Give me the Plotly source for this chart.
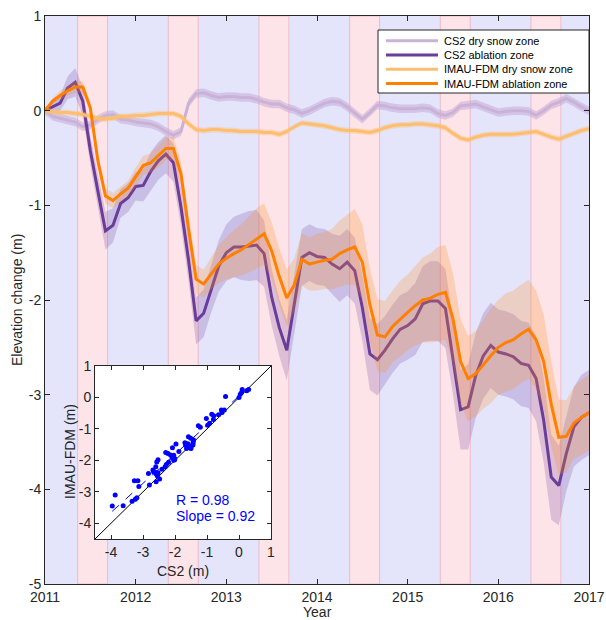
import numpy as np
import plotly.graph_objects as go

# ---------------- data ----------------
month_index = list(range(73))              # months since Jan 2011
time = [2011 + m / 12 for m in month_index]

cs2_dry = [0.00, -0.06, -0.08, -0.10, -0.12, -0.17, -0.15, -0.09, -0.05, -0.04, -0.09, -0.10, -0.12,
           -0.13, -0.14, -0.17, -0.22, -0.26, -0.22, 0.08, 0.18, 0.19, 0.16, 0.14, 0.15,
           0.15, 0.14, 0.14, 0.12, 0.09, 0.07, 0.07, 0.03, 0.01, -0.03, 0.00, 0.04,
           0.08, 0.10, 0.09, 0.04, -0.03, -0.09, -0.02, 0.06, 0.05, 0.03, 0.02, 0.02,
           0.02, 0.03, 0.02, -0.03, -0.05, -0.02, 0.05, 0.06, 0.07, 0.04, 0.01, -0.02,
           -0.01, 0.00, 0.00, -0.01, -0.05, 0.00, 0.06, 0.09, 0.13, 0.09, 0.04, 0.00]

cs2_abl = [0.00, 0.04, 0.08, 0.24, 0.30, 0.10, -0.42, -0.85, -1.27, -1.21, -0.98, -0.92, -0.80,
           -0.79, -0.64, -0.53, -0.46, -0.55, -1.02, -1.58, -2.22, -2.14, -1.88, -1.64, -1.50,
           -1.44, -1.44, -1.43, -1.42, -1.51, -1.97, -2.29, -2.53, -2.04, -1.55, -1.50, -1.54,
           -1.55, -1.62, -1.67, -1.60, -1.69, -2.08, -2.57, -2.63, -2.53, -2.41, -2.31, -2.27,
           -2.20, -2.04, -2.01, -2.01, -2.09, -2.60, -3.16, -3.13, -2.80, -2.59, -2.48, -2.55,
           -2.57, -2.60, -2.67, -2.69, -2.83, -3.27, -3.87, -3.96, -3.62, -3.34, -3.24, -3.19]

imau_dry = [0.00, -0.01, -0.02, -0.02, -0.03, -0.04, -0.06, -0.08, -0.09, -0.08, -0.06, -0.06, -0.05,
            -0.05, -0.04, -0.03, -0.03, -0.03, -0.06, -0.14, -0.20, -0.21, -0.20, -0.20, -0.21,
            -0.21, -0.22, -0.22, -0.22, -0.23, -0.23, -0.25, -0.22, -0.17, -0.13, -0.14, -0.15,
            -0.16, -0.18, -0.20, -0.21, -0.21, -0.22, -0.23, -0.21, -0.18, -0.16, -0.15, -0.15,
            -0.14, -0.14, -0.15, -0.16, -0.18, -0.24, -0.29, -0.31, -0.28, -0.26, -0.25, -0.25,
            -0.25, -0.25, -0.24, -0.23, -0.22, -0.25, -0.28, -0.30, -0.27, -0.24, -0.21, -0.19]

imau_abl = [0.00, 0.10, 0.16, 0.21, 0.25, 0.25, 0.03, -0.53, -0.90, -0.95, -0.88, -0.82, -0.70,
            -0.58, -0.55, -0.48, -0.40, -0.40, -0.67, -1.25, -1.78, -1.83, -1.72, -1.62, -1.56,
            -1.51, -1.47, -1.41, -1.35, -1.30, -1.48, -1.75, -1.98, -1.84, -1.57, -1.62, -1.60,
            -1.58, -1.57, -1.51, -1.47, -1.44, -1.60, -2.05, -2.37, -2.39, -2.28, -2.20, -2.13,
            -2.06, -2.00, -1.98, -1.94, -1.92, -2.20, -2.65, -2.83, -2.78, -2.68, -2.59, -2.50,
            -2.45, -2.42, -2.36, -2.31, -2.42, -2.65, -3.10, -3.45, -3.44, -3.30, -3.24, -3.19]

cs2_abl_unc = [0.00, 0.05, 0.08, 0.12, 0.15, 0.15, 0.15, 0.17, 0.20, 0.18, 0.15, 0.15, 0.15,
               0.17, 0.20, 0.20, 0.20, 0.20, 0.20, 0.22, 0.25, 0.25, 0.25, 0.27, 0.30,
               0.32, 0.35, 0.37, 0.37, 0.35, 0.30, 0.30, 0.32, 0.30, 0.30, 0.30, 0.30,
               0.30, 0.32, 0.35, 0.35, 0.35, 0.35, 0.38, 0.38, 0.36, 0.36, 0.36, 0.36,
               0.38, 0.40, 0.42, 0.42, 0.42, 0.40, 0.42, 0.45, 0.45, 0.45, 0.45, 0.45,
               0.45, 0.45, 0.45, 0.45, 0.45, 0.45, 0.45, 0.42, 0.40, 0.42, 0.45, 0.45]

imau_abl_unc = [0.00, 0.03, 0.05, 0.05, 0.06, 0.06, 0.06, 0.07, 0.08, 0.08, 0.08, 0.08, 0.10,
                0.10, 0.10, 0.12, 0.12, 0.12, 0.12, 0.15, 0.15, 0.15, 0.17, 0.20, 0.22,
                0.25, 0.27, 0.30, 0.32, 0.32, 0.30, 0.30, 0.30, 0.28, 0.28, 0.28, 0.30,
                0.30, 0.32, 0.35, 0.37, 0.40, 0.40, 0.38, 0.38, 0.38, 0.38, 0.40, 0.40,
                0.42, 0.45, 0.47, 0.50, 0.50, 0.48, 0.45, 0.45, 0.45, 0.47, 0.50, 0.50,
                0.52, 0.52, 0.52, 0.52, 0.52, 0.50, 0.45, 0.40, 0.38, 0.38, 0.40, 0.40]

cs2_dry_unc = 0.045
imau_dry_unc = 0.03

summer_start = [2011.36, 2012.36, 2013.36, 2014.36, 2015.36, 2016.36]
summer_end = [2011.69, 2012.69, 2013.69, 2014.69, 2015.69, 2016.69]

year_ticks = [2011, 2012, 2013, 2014, 2015, 2016, 2017]
year_labels = ["2011", "2012", "2013", "2014", "2015", "2016", "2017"]
y_ticks = [-5, -4, -3, -2, -1, 0, 1]
y_labels = ["-5", "-4", "-3", "-2", "-1", "0", "1"]
inset_ticks = [-4, -3, -2, -1, 0, 1]
inset_labels = ["-4", "-3", "-2", "-1", "0", "1"]

series_names = ["CS2 dry snow zone", "CS2 ablation zone",
                "IMAU-FDM dry snow zone", "IMAU-FDM ablation zone"]
line_colors = ["#cab2d6", "#6a3d9a", "#fdbf6f", "#ff7f00"]
band_colors = ["rgba(190,160,210,0.45)", "rgba(106,61,154,0.22)",
               "rgba(253,191,111,0.40)", "rgba(255,140,30,0.25)"]

# ---------------- figure ----------------
W, H = 606, 620
L, R, T, B = 45, 17, 16, 36
PW, PH = W - L - R, H - T - B


def px2x(px):
    return (px - L) / PW


def px2y(py):
    return 1 - (py - T) / PH


fig = go.Figure()

values = [cs2_dry, cs2_abl, imau_dry, imau_abl]
uncs = [[cs2_dry_unc] * len(time), cs2_abl_unc, [imau_dry_unc] * len(time), imau_abl_unc]

for vals, unc, lc, bc, name in zip(values, uncs, line_colors, band_colors, series_names):
    v = np.array(vals)
    u = np.array(unc)
    upper = v + u
    lower = v - u
    fig.add_trace(go.Scatter(
        x=time + time[::-1], y=list(upper) + list(lower[::-1]),
        fill="toself", fillcolor=bc, line=dict(width=0), mode="lines",
        hoverinfo="skip", showlegend=False, xaxis="x", yaxis="y"))
    fig.add_trace(go.Scatter(
        x=time, y=vals, mode="lines", line=dict(color=lc, width=3),
        name=name, showlegend=False, xaxis="x", yaxis="y"))

# ---------------- inset scatter ----------------
cs2_arr = np.array(cs2_abl)
imau_arr = np.array(imau_abl)
slope, intercept = np.polyfit(cs2_arr, imau_arr, 1)
fit_x = np.array([cs2_arr.min(), cs2_arr.max()])
fit_y = slope * fit_x + intercept

fig.add_trace(go.Scatter(x=[-4.5, 1], y=[-4.5, 1], mode="lines",
                         line=dict(color="black", width=1), xaxis="x2", yaxis="y2",
                         showlegend=False, hoverinfo="skip"))
fig.add_trace(go.Scatter(x=fit_x, y=fit_y, mode="lines",
                         line=dict(color="#0000ff", width=1, dash="dash"),
                         xaxis="x2", yaxis="y2", showlegend=False, hoverinfo="skip"))
fig.add_trace(go.Scatter(x=cs2_abl, y=imau_abl, mode="markers",
                         marker=dict(color="#0000ff", size=5),
                         xaxis="x2", yaxis="y2", showlegend=False))

# ---------------- background season bands ----------------
shapes = []
shapes.append(dict(type="rect", xref="x", yref="y domain", x0=year_ticks[0], x1=year_ticks[-1],
                   y0=0, y1=1, fillcolor="#e4e4fb", line=dict(width=0), layer="below"))
for s, e in zip(summer_start, summer_end):
    shapes.append(dict(type="rect", xref="x", yref="y domain", x0=s, x1=e, y0=0, y1=1,
                       fillcolor="#fde4e8", line=dict(color="rgba(235,170,190,0.7)", width=1),
                       layer="below"))

# ---------------- manual legend ----------------
lg_x0, lg_x1, lg_y0, lg_y1 = 378, 589, 30, 93
shapes.append(dict(type="rect", xref="paper", yref="paper",
                   x0=px2x(lg_x0), x1=px2x(lg_x1), y0=px2y(lg_y1), y1=px2y(lg_y0),
                   fillcolor="white", line=dict(color="#262626", width=1), layer="above"))
rows = [40.7, 55.0, 69.3, 83.5]
annotations = []
for ry, lc, name in zip(rows, line_colors, series_names):
    shapes.append(dict(type="line", xref="paper", yref="paper",
                       x0=px2x(386), x1=px2x(438), y0=px2y(ry), y1=px2y(ry),
                       line=dict(color=lc, width=3), layer="above"))
    annotations.append(dict(text=name, xref="paper", yref="paper", x=px2x(442), y=px2y(ry),
                            xanchor="left", yanchor="middle", showarrow=False,
                            font=dict(size=11, color="#000000")))

# ---------------- titles / texts ----------------
annotations += [
    dict(text="Year", xref="paper", yref="paper", x=px2x(317), y=px2y(612),
         xanchor="center", yanchor="middle", showarrow=False, font=dict(size=14)),
    dict(text="Elevation change (m)", xref="paper", yref="paper", x=px2x(17), y=px2y(300),
         xanchor="center", yanchor="middle", textangle=-90, showarrow=False, font=dict(size=14)),
    dict(text="CS2 (m)", xref="paper", yref="paper", x=px2x(183), y=px2y(571),
         xanchor="center", yanchor="middle", showarrow=False, font=dict(size=14)),
    dict(text="IMAU-FDM (m)", xref="paper", yref="paper", x=px2x(70), y=px2y(452),
         xanchor="center", yanchor="middle", textangle=-90, showarrow=False, font=dict(size=14)),
    dict(text="R = 0.98", xref="x2", yref="y2", x=-2.03, y=-3.25,
         xanchor="left", yanchor="middle", showarrow=False, font=dict(size=14, color="#0000ff")),
    dict(text="Slope = 0.92", xref="x2", yref="y2", x=-2.03, y=-3.77,
         xanchor="left", yanchor="middle", showarrow=False, font=dict(size=14, color="#0000ff")),
]

axis_common = dict(showgrid=False, zeroline=False, showline=True, linecolor="#262626",
                   linewidth=1, ticks="inside", mirror="ticks", tickcolor="#262626",
                   automargin=False)

fig.update_layout(
    width=W, height=H,
    margin=dict(l=L, r=R, t=T, b=B, autoexpand=False),
    plot_bgcolor="white", paper_bgcolor="white",
    font=dict(family="Liberation Sans, Arial, sans-serif", size=14, color="#262626"),
    showlegend=False,
    shapes=shapes,
    annotations=annotations,
    xaxis=dict(range=[2011, 2017], tickvals=year_ticks, ticktext=year_labels, ticklen=5,
               tickfont=dict(size=14), domain=[0, 1], anchor="y", **axis_common),
    yaxis=dict(range=[-5, 1], tickvals=y_ticks, ticktext=y_labels, ticklen=5,
               tickfont=dict(size=14), domain=[0, 1], anchor="x", **axis_common),
    xaxis2=dict(range=[-4.5, 1], tickvals=inset_ticks, ticktext=inset_labels, ticklen=4,
                tickfont=dict(size=14), domain=[px2x(95), px2x(271)], anchor="y2",
                **axis_common),
    yaxis2=dict(range=[-4.5, 1], tickvals=inset_ticks, ticktext=inset_labels, ticklen=4,
                tickfont=dict(size=14), domain=[px2y(539), px2y(366)], anchor="x2",
                **axis_common),
)

fig.write_html("out.html")
